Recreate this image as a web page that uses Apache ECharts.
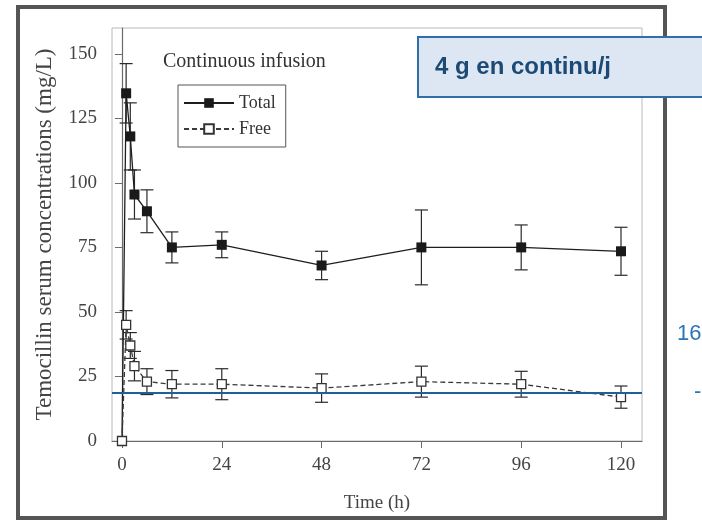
<!DOCTYPE html>
<html>
<head>
<meta charset="utf-8">
<script src="https://cdn.jsdelivr.net/npm/echarts@6/dist/echarts.min.js"></script>
<style>html,body{margin:0;padding:0;background:#fff;}#c{width:702px;height:521px;}</style>
</head>
<body>
<div id="c"></div>
<script>
// Data
const times      = [0, 1, 2, 3, 6, 12, 24, 48, 72, 96, 120];
const totalMean  = [0, 134.7, 118, 95.5, 89, 75, 76, 68, 75, 75, 73.5];
const totalErr   = [0, 11.5, 13, 9.5, 8.3, 6, 5, 5.5, 14.5, 8.7, 9.3];
const freeMean   = [0, 45, 37, 29, 23, 22, 22, 20.5, 23, 22, 17];
const freeErr    = [0, 5.5, 5, 5.7, 5, 5.3, 6, 5.5, 6, 5, 4.3];
const xTicks     = [0, 24, 48, 72, 96, 120];
const yTicks     = [0, 25, 50, 75, 100, 125, 150];
const thresholdValue = 18.5;

const serif = 'Liberation Serif';

function pairs(xs, ys) { return xs.map((x, i) => [x, ys[i]]); }
function errData(xs, m, e) { return xs.map((x, i) => [x, m[i] - e[i], m[i] + e[i]]); }

function errRender(params, api) {
  const x = api.value(0);
  const lo = api.coord([x, api.value(1)]);
  const hi = api.coord([x, api.value(2)]);
  const hw = 6.5;
  const st = { stroke: '#2a2a2a', lineWidth: 1.2 };
  if (Math.abs(lo[1] - hi[1]) < 0.5) return null;
  return {
    type: 'group',
    children: [
      { type: 'line', shape: { x1: lo[0], y1: lo[1], x2: hi[0], y2: hi[1] }, style: st },
      { type: 'line', shape: { x1: lo[0] - hw, y1: lo[1], x2: lo[0] + hw, y2: lo[1] }, style: st },
      { type: 'line', shape: { x1: hi[0] - hw, y1: hi[1], x2: hi[0] + hw, y2: hi[1] }, style: st }
    ]
  };
}

// Total at t=0 is hidden under the open Free square in the reference
const totalData = pairs(times, totalMean).map((p, i) =>
  totalMean[i] === 0 ? { value: p, symbol: 'none' } : p);

const chart = echarts.init(document.getElementById('c'), null, { renderer: 'canvas' });
chart.setOption({
  backgroundColor: '#fff',
  animation: false,
  grid: { left: 112, right: 60, top: 28, bottom: 80, show: true, borderColor: '#b8b8b8', borderWidth: 1, backgroundColor: 'transparent' },
  xAxis: {
    type: 'value', min: -2.4, max: 125.05,
    axisLine: { show: true, lineStyle: { color: '#6a6a6a', width: 1.2 } },
    axisTick: { show: true, length: 7, customValues: xTicks, lineStyle: { color: '#6a6a6a' } },
    axisLabel: { customValues: xTicks, margin: 15, color: '#444', fontFamily: serif, fontSize: 19 },
    splitLine: { show: false },
    name: 'Time (h)', nameLocation: 'middle', nameGap: 53,
    nameTextStyle: { color: '#444', fontFamily: serif, fontSize: 19 }
  },
  yAxis: {
    type: 'value', min: 0, max: 160,
    axisLine: { show: true, lineStyle: { color: '#6a6a6a', width: 1.2 } },
    axisTick: { show: true, length: 7, customValues: yTicks, lineStyle: { color: '#6a6a6a' } },
    axisLabel: { customValues: yTicks, margin: 15, color: '#444', fontFamily: serif, fontSize: 19 },
    splitLine: { show: false },
    name: 'Temocillin serum concentrations (mg/L)', nameLocation: 'middle', nameGap: 56, nameRotate: 90,
    nameTextStyle: { color: '#444', fontFamily: serif, fontSize: 23 }
  },
  legend: {
    data: ['Total', 'Free'],
    orient: 'vertical', left: 178, top: 85,
    itemWidth: 50, itemHeight: 12, itemGap: 8,
    padding: [9, 10, 9, 5],
    borderColor: '#555', borderWidth: 1,
    textStyle: { color: '#333', fontFamily: serif, fontSize: 18 }
  },
  series: [
    {
      type: 'custom', name: 'totalErr', renderItem: errRender,
      data: errData(times, totalMean, totalErr), z: 2, silent: true
    },
    {
      type: 'custom', name: 'freeErr', renderItem: errRender,
      data: errData(times, freeMean, freeErr), z: 2, silent: true
    },
    {
      type: 'line', name: 'Total', data: totalData, z: 3,
      symbol: 'rect', symbolSize: 10,
      lineStyle: { color: '#1e1e1e', width: 1.3 },
      itemStyle: { color: '#1a1a1a', borderColor: '#1a1a1a', borderWidth: 0 }
    },
    {
      type: 'line', name: 'Free', data: pairs(times, freeMean), z: 4,
      symbol: 'rect', symbolSize: 9,
      lineStyle: { color: '#3a3a3a', width: 1.3, type: [5, 3] },
      itemStyle: { color: '#fff', borderColor: '#333', borderWidth: 1.3 },
      markLine: {
        silent: true, symbol: ['none', 'none'], label: { show: false },
        lineStyle: { color: '#1f5f9e', width: 2, type: 'solid' },
        data: [{ yAxis: thresholdValue }], z: 6
      }
    }
  ],
  graphic: [
    { type: 'rect', shape: { x: 18, y: 7, width: 647, height: 511 }, style: { fill: 'none', stroke: '#555', lineWidth: 4 }, z: 10 },
    { type: 'text', left: 163, top: 52, style: { text: 'Continuous infusion', fill: '#333', font: '20px "Liberation Serif"' } },
    { type: 'rect', shape: { x: 418, y: 37, width: 300, height: 60 }, style: { fill: '#dde7f3', stroke: '#2f6ea8', lineWidth: 2 }, z: 20 },
    { type: 'text', x: 435, y: 67, style: { text: '4 g en continu/j', fill: '#1c4a75', font: 'bold 24px "Liberation Sans"', verticalAlign: 'middle' }, z: 21 },
    { type: 'text', x: 677, y: 334, style: { text: '16', fill: '#2e75b6', font: '22px "Liberation Sans"', verticalAlign: 'middle' }, z: 21 },
    { type: 'text', x: 694, y: 392, style: { text: '-', fill: '#2e75b6', font: '22px "Liberation Sans"', verticalAlign: 'middle' }, z: 21 }
  ]
});
</script>
</body>
</html>
